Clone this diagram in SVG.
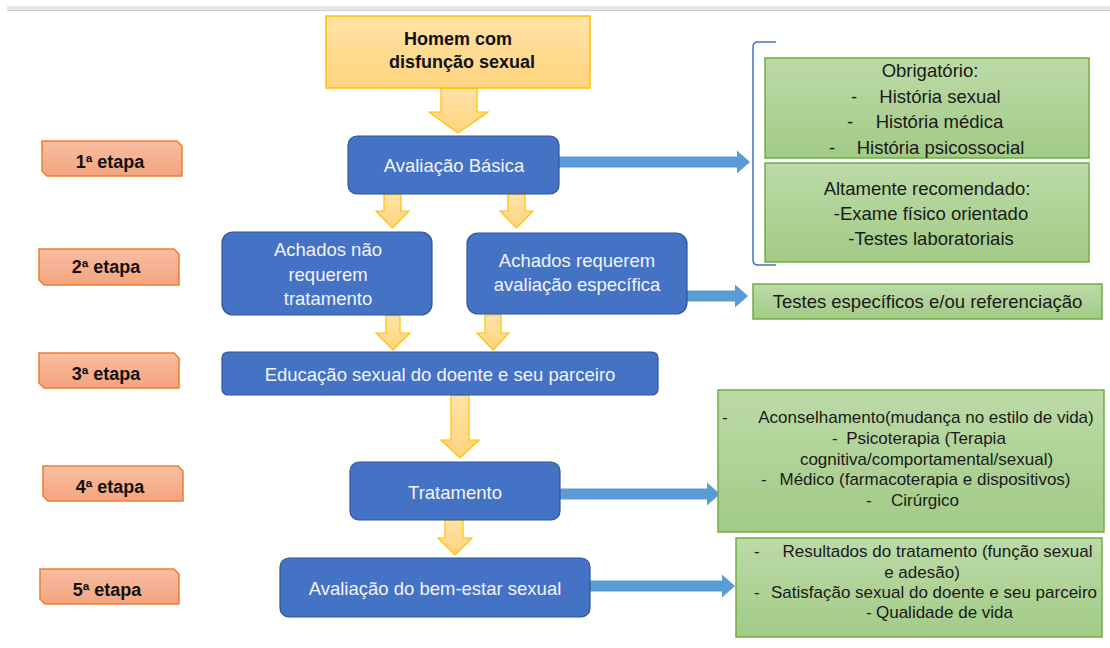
<svg xmlns="http://www.w3.org/2000/svg" width="1110" height="648" viewBox="0 0 1110 648">
<style>
  .blue{fill:#4472C4;stroke:#2F5597;stroke-width:1.2}
  .btxt{font-family:"Liberation Sans",Arial,sans-serif;font-size:18.5px;fill:#F2F4FA;text-anchor:middle}
  .yel{fill:url(#gy);stroke:#FFC000;stroke-width:1.5}
  .ytxt{font-family:"Liberation Sans",Arial,sans-serif;font-size:18px;font-weight:bold;fill:#111;text-anchor:middle}
  .grn{fill:url(#gg);stroke:#70AD47;stroke-width:1.5}
  .gtxt{font-family:"Liberation Sans",Arial,sans-serif;font-size:18.5px;fill:#1A1A1A;text-anchor:middle}
  .gtxs{font-family:"Liberation Sans",Arial,sans-serif;font-size:17px;fill:#1A1A1A;text-anchor:middle}
  .dash{text-anchor:start}
  .org{fill:url(#go);stroke:#ED7D31;stroke-width:1.5}
  .otxt{font-family:"Liberation Sans",Arial,sans-serif;font-size:18px;font-weight:bold;fill:#111;text-anchor:middle}
  .yarr{fill:url(#gy);stroke:#FFC000;stroke-width:1.2;stroke-linejoin:miter}
  .barr{fill:#5B9BD5}
</style>
<defs>
  <linearGradient id="gy" x1="0" y1="0" x2="0" y2="1">
    <stop offset="0" stop-color="#FFE3A6"/>
    <stop offset="1" stop-color="#FFD47E"/>
  </linearGradient>
  <linearGradient id="gg" x1="0" y1="0" x2="0" y2="1">
    <stop offset="0" stop-color="#BCDAA8"/>
    <stop offset="1" stop-color="#A2CB86"/>
  </linearGradient>
  <linearGradient id="go" x1="0" y1="0" x2="0" y2="1">
    <stop offset="0" stop-color="#F8BEA2"/>
    <stop offset="1" stop-color="#F4A47E"/>
  </linearGradient>
</defs>
<rect x="0" y="0" width="1110" height="648" fill="#FFFFFF"/>
<rect x="7" y="6" width="1103" height="4" fill="#E8E8E8"/>
<line x1="7" y1="10.5" x2="1110" y2="10.5" stroke="#CDCDCD" stroke-width="1"/>

<g id="connectors">
  <polygon class="yarr" points="441,88 477,88 477,112 488,112 458,133 429,112 441,112"/>
  <polygon class="yarr" points="384,194 401,194 401,211 409,211 392.5,228 376,211 384,211"/>
  <polygon class="yarr" points="508,194 525,194 525,211 533,211 516.5,228 500,211 508,211"/>
  <polygon class="yarr" points="386,315 400,315 400,333 410,333 393,350 376,333 386,333"/>
  <polygon class="yarr" points="485,315 501,315 501,333 509,333 493,350 477,333 485,333"/>
  <polygon class="yarr" points="451,395 469,395 469,440 479,440 460,458 441,440 451,440"/>
  <polygon class="yarr" points="445,520 463,520 463,538 472,538 455,555 438,538 445,538"/>
  <polygon class="barr" points="559,156.5 737,156.5 737,150.5 750,162 737,173.5 737,167.5 559,167.5"/>
  <polygon class="barr" points="687,290.5 735,290.5 735,284.5 748,296 735,307.5 735,301.5 687,301.5"/>
  <polygon class="barr" points="560,488.5 707,488.5 707,482.5 720,494 707,505.5 707,499.5 560,499.5"/>
  <polygon class="barr" points="590,580.5 722,580.5 722,574.5 735,586 722,597.5 722,591.5 590,591.5"/>
  <path d="M776,42 L758,42 Q753,42 753,47 L753,260 Q753,265 758,265 L776,265" fill="none" stroke="#4472C4" stroke-width="1.5"/>
</g>

<g id="start">
  <rect class="yel" x="326" y="16" width="264" height="72"/>
  <text class="ytxt" x="458" y="45">Homem com</text>
  <text class="ytxt" x="462" y="68">disfunção sexual</text>
</g>

<g id="avaliacao-basica">
  <rect class="blue" x="348" y="136" width="211" height="58" rx="9"/>
  <text class="btxt" x="454" y="172">Avaliação Básica</text>
</g>

<g id="achados-nao">
  <rect class="blue" x="222" y="232" width="210" height="83" rx="11"/>
  <text class="btxt" x="328" y="256">Achados não</text>
  <text class="btxt" x="328" y="280.5">requerem</text>
  <text class="btxt" x="328" y="305">tratamento</text>
</g>

<g id="achados-requerem">
  <rect class="blue" x="467" y="233" width="220" height="81" rx="11"/>
  <text class="btxt" x="577" y="267">Achados requerem</text>
  <text class="btxt" x="577" y="291">avaliação específica</text>
</g>

<g id="educacao">
  <rect class="blue" x="222" y="352" width="436" height="43" rx="6"/>
  <text class="btxt" x="440" y="381">Educação sexual do doente e seu parceiro</text>
</g>

<g id="tratamento">
  <rect class="blue" x="350" y="462" width="210" height="58" rx="9"/>
  <text class="btxt" x="455" y="499">Tratamento</text>
</g>

<g id="bem-estar">
  <rect class="blue" x="280" y="558" width="310" height="59" rx="9"/>
  <text class="btxt" x="435" y="595">Avaliação do bem-estar sexual</text>
</g>

<g id="obrigatorio">
  <rect class="grn" x="765" y="58" width="324" height="100"/>
  <text class="gtxt" x="930" y="77">Obrigatório:</text>
  <text class="gtxt dash" x="851" y="102.5">-</text>
  <text class="gtxt" x="940" y="102.5">História sexual</text>
  <text class="gtxt dash" x="847" y="128">-</text>
  <text class="gtxt" x="939.5" y="128">História médica</text>
  <text class="gtxt dash" x="829" y="153.5">-</text>
  <text class="gtxt" x="940.5" y="153.5">História psicossocial</text>
</g>

<g id="recomendado">
  <rect class="grn" x="765" y="163" width="324" height="99"/>
  <text class="gtxt" x="927" y="195">Altamente recomendado:</text>
  <text class="gtxt" x="931" y="220">-Exame físico orientado</text>
  <text class="gtxt" x="931" y="245">-Testes laboratoriais</text>
</g>

<g id="testes">
  <rect class="grn" x="753" y="284" width="349" height="35"/>
  <text class="gtxt" x="927.5" y="308">Testes específicos e/ou referenciação</text>
</g>

<g id="opcoes-tratamento">
  <rect class="grn" x="718" y="390" width="386" height="142"/>
  <text class="gtxs dash" x="722" y="423">-</text>
  <text class="gtxs" x="926" y="423">Aconselhamento(mudança no estilo de vida)</text>
  <text class="gtxs dash" x="832" y="444">-</text>
  <text class="gtxs" x="926" y="444">Psicoterapia (Terapia</text>
  <text class="gtxs" x="926.5" y="465">cognitiva/comportamental/sexual)</text>
  <text class="gtxs dash" x="761" y="485">-</text>
  <text class="gtxs" x="925" y="485">Médico (farmacoterapia e dispositivos)</text>
  <text class="gtxs dash" x="866" y="506">-</text>
  <text class="gtxs" x="925" y="506">Cirúrgico</text>
</g>

<g id="resultados">
  <rect class="grn" x="736" y="538" width="366" height="99"/>
  <text class="gtxs dash" x="754" y="557">-</text>
  <text class="gtxs" x="937.5" y="557">Resultados do tratamento (função sexual</text>
  <text class="gtxs" x="922" y="577.5">e adesão)</text>
  <text class="gtxs dash" x="754" y="598">-</text>
  <text class="gtxs" x="934" y="598">Satisfação sexual do doente e seu parceiro</text>
  <text class="gtxs dash" x="866" y="618">-</text>
  <text class="gtxs" x="944.5" y="618">Qualidade de vida</text>
</g>

<g id="etapa1">
  <path class="org" d="M42,141 L177,141 L182,146 L182,176 L47,176 L42,171 Z"/>
  <text class="otxt" x="110" y="168">1ª etapa</text>
</g>
<g id="etapa2">
  <path class="org" d="M39,249 L174,249 L179,254 L179,285 L44,285 L39,280 Z"/>
  <text class="otxt" x="106" y="273">2ª etapa</text>
</g>
<g id="etapa3">
  <path class="org" d="M39,353 L174,353 L179,358 L179,388 L44,388 L39,383 Z"/>
  <text class="otxt" x="106" y="380">3ª etapa</text>
</g>
<g id="etapa4">
  <path class="org" d="M43,466 L178,466 L183,471 L183,501 L48,501 L43,496 Z"/>
  <text class="otxt" x="110" y="493">4ª etapa</text>
</g>
<g id="etapa5">
  <path class="org" d="M40,569 L174,569 L179,574 L179,604 L45,604 L40,599 Z"/>
  <text class="otxt" x="107" y="596">5ª etapa</text>
</g>
</svg>
